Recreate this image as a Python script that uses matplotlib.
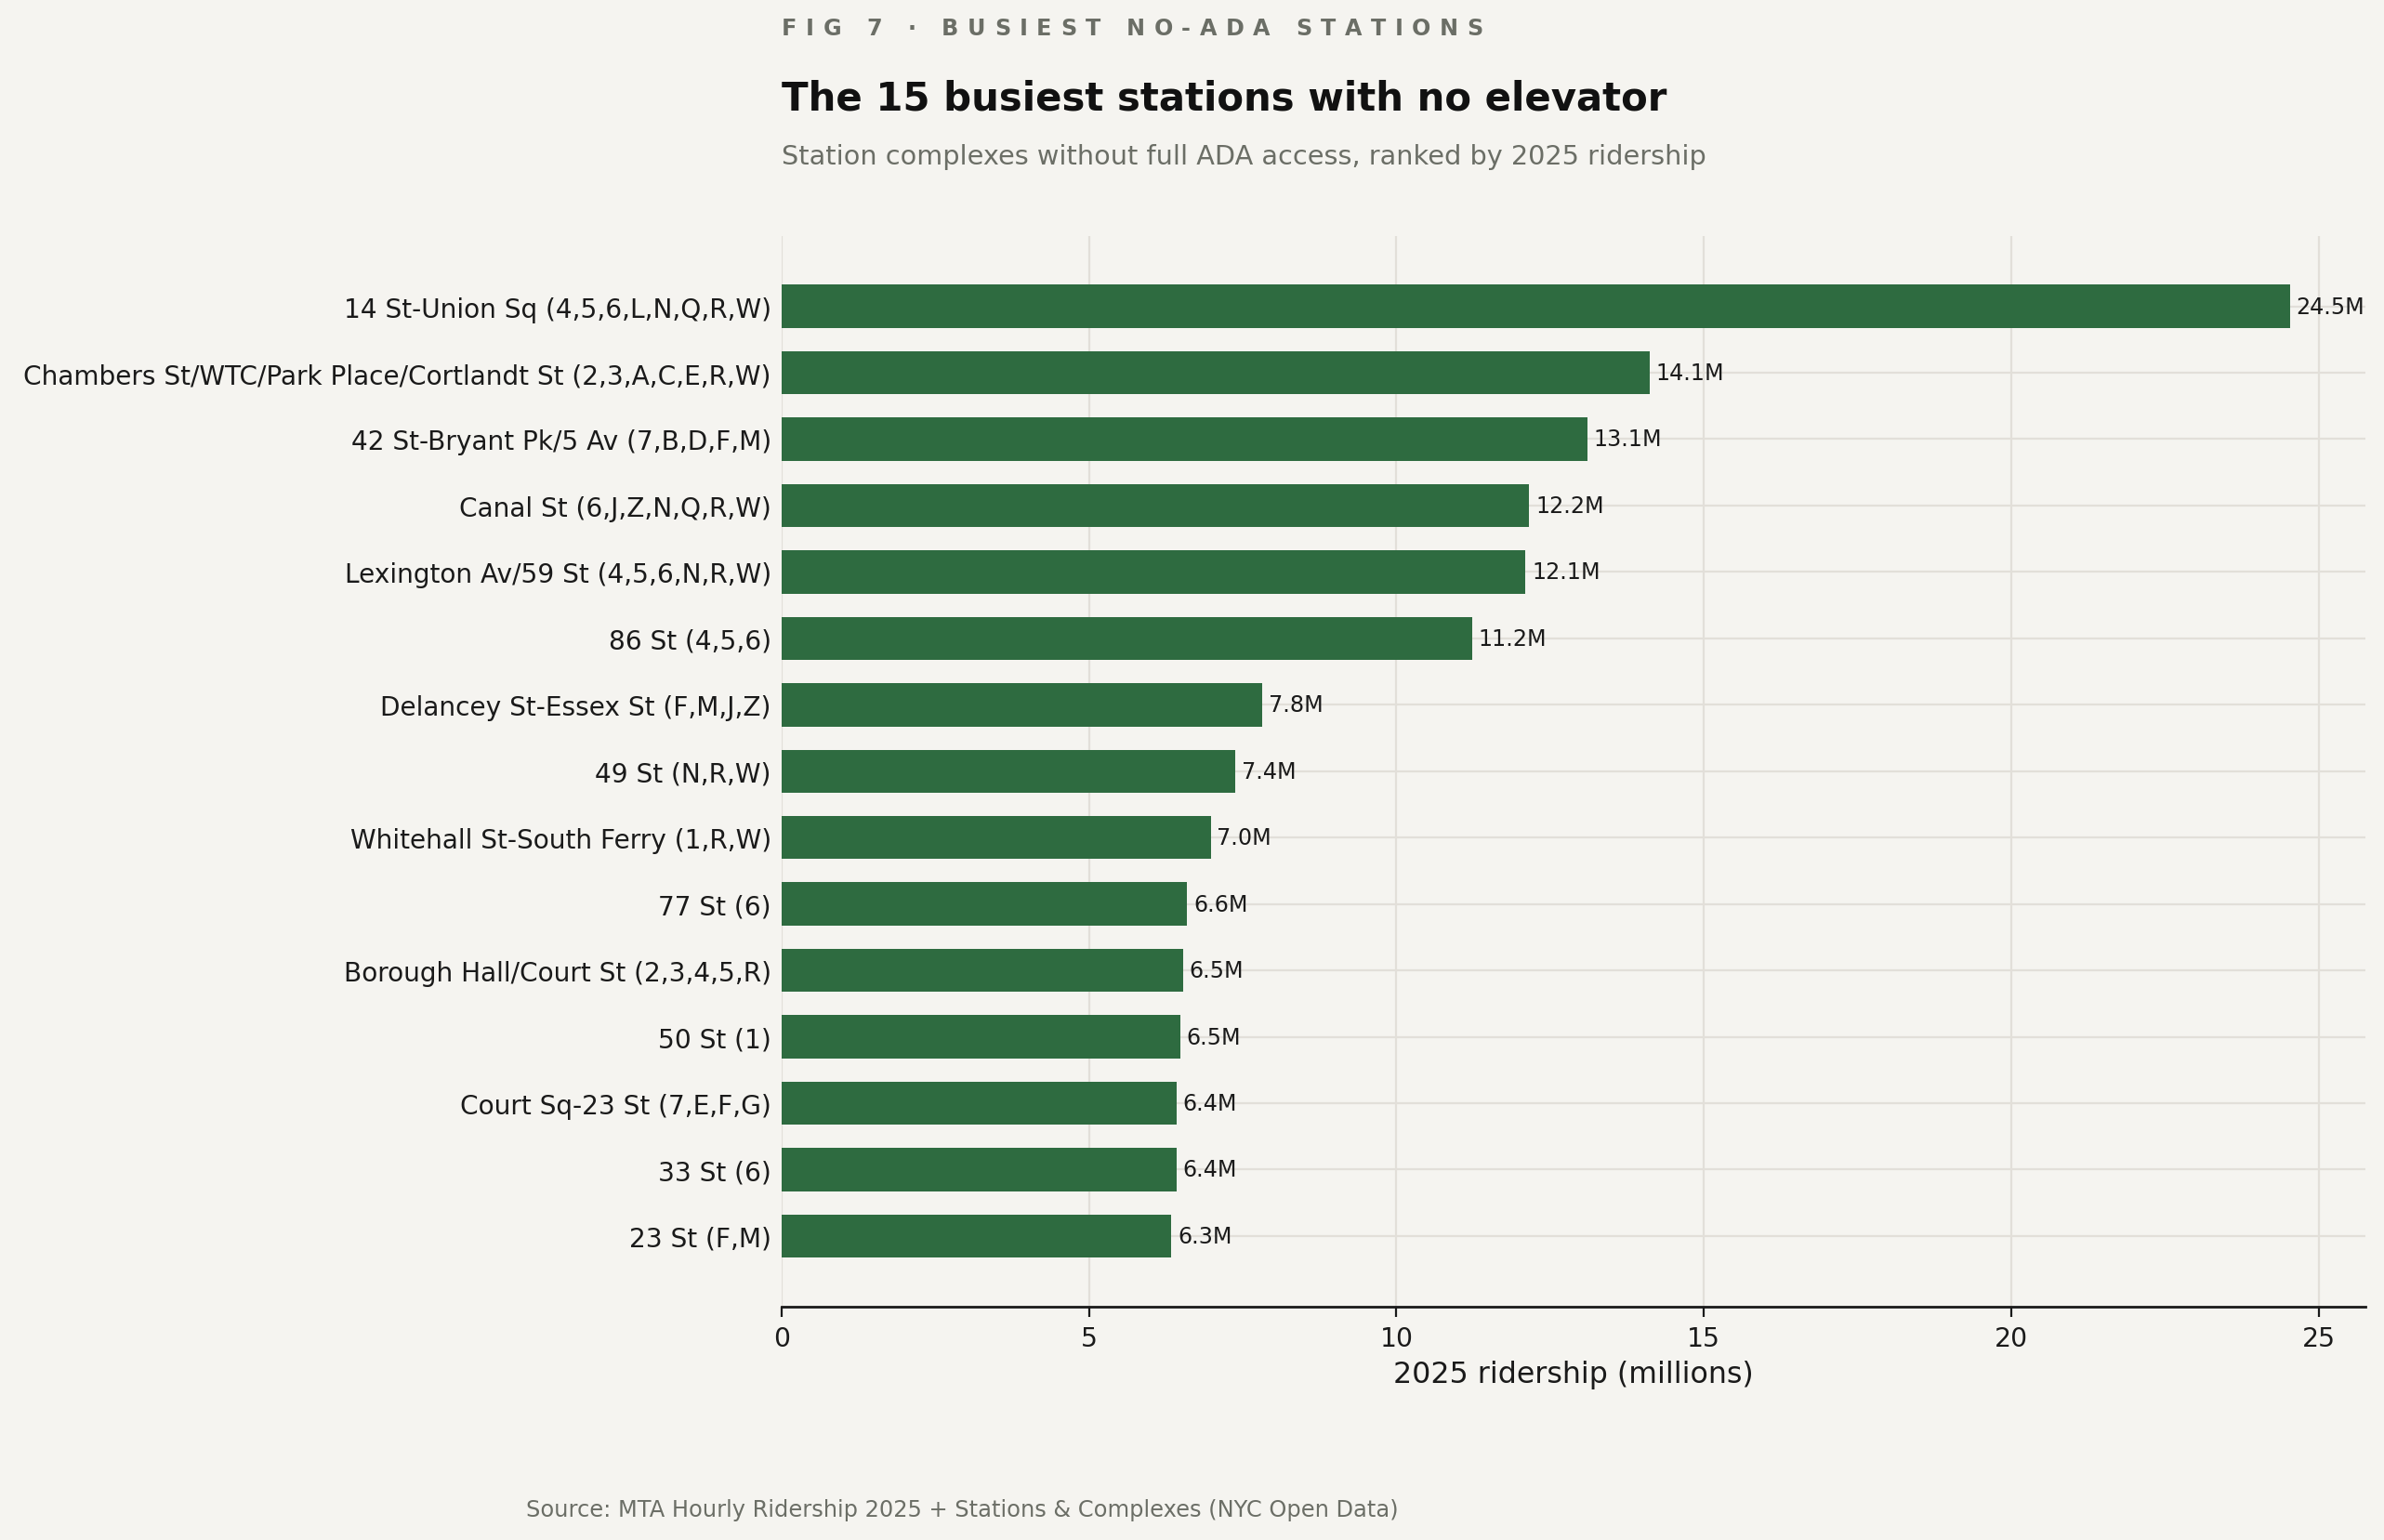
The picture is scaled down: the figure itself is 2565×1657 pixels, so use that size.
import numpy as np
import matplotlib.pyplot as plt

stations = [
    "14 St-Union Sq (4,5,6,L,N,Q,R,W)",
    "Chambers St/WTC/Park Place/Cortlandt St (2,3,A,C,E,R,W)",
    "42 St-Bryant Pk/5 Av (7,B,D,F,M)",
    "Canal St (6,J,Z,N,Q,R,W)",
    "Lexington Av/59 St (4,5,6,N,R,W)",
    "86 St (4,5,6)",
    "Delancey St-Essex St (F,M,J,Z)",
    "49 St (N,R,W)",
    "Whitehall St-South Ferry (1,R,W)",
    "77 St (6)",
    "Borough Hall/Court St (2,3,4,5,R)",
    "50 St (1)",
    "Court Sq-23 St (7,E,F,G)",
    "33 St (6)",
    "23 St (F,M)",
]
ridership = [24.53, 14.12, 13.11, 12.16, 12.10, 11.23, 7.82, 7.38, 6.98,
             6.60, 6.53, 6.49, 6.43, 6.42, 6.34]

BG = "#f5f4f0"
GREEN = "#2e6b40"
GRAY = "#6b6e66"
GRID = "#e2dfd9"
W, H = 2565, 1658
AX_TOP, AX_BOT = 255.0, 1406.5

fig = plt.figure(figsize=(W / 200, H / 200), dpi=200, facecolor=BG)
ax = fig.add_axes([840.8/W, 1 - AX_BOT/H, (2545-840.8)/W, (AX_BOT-AX_TOP)/H])
ax.set_facecolor(BG)

y = np.arange(len(stations))
ax.barh(y, ridership, height=0.65, color=GREEN, zorder=3)
ax.invert_yaxis()
ax.set_yticks(y)
ax.set_yticklabels(stations, fontsize=10.1, color="#1a1a1a")
ax.tick_params(axis="y", length=0, pad=4)
ax.tick_params(axis="x", labelsize=10.2, colors="#1a1a1a", length=4, width=0.8)
ax.set_xlim(0, max(ridership) * 1.05)
ax.set_xticks([0, 5, 10, 15, 20, 25])

for i, v in enumerate(ridership):
    ax.text(v + 0.1, i, f"{v:.1f}M", va="center", ha="left", fontsize=8.6,
            color="#1a1a1a", zorder=4)

ax.grid(True, color=GRID, linewidth=0.8, zorder=0)
ax.set_axisbelow(True)
for s in ["top", "right", "left"]:
    ax.spines[s].set_visible(False)
ax.spines["bottom"].set_color("#1a1a1a")
ax.spines["bottom"].set_linewidth(1.0)

ax.set_xlabel("2025 ridership (millions)", fontsize=11.4, color="#1a1a1a")
ax.xaxis.set_label_coords(0.5, (AX_BOT - 1488) / (AX_BOT - AX_TOP), transform=ax.transAxes)
ax.xaxis.label.set_va("baseline")

x0 = 840.8 / W

# kicker with letter spacing: place characters one by one
kicker = "FIG 7 · BUSIEST NO-ADA STATIONS"
target_w = 755.0
renderer = fig.canvas.get_renderer()
widths = []
for ch in kicker:
    t = fig.text(0, 0, ch if ch != " " else "\u00a0", fontsize=8.6, fontweight="bold")
    widths.append(t.get_window_extent(renderer).width)
    t.remove()
track = (target_w - sum(widths)) / (len(kicker) - 1)
xp = 840.8
for ch, w in zip(kicker, widths):
    if ch != " ":
        fig.text(xp / W, 1 - 37.7/H, ch, fontsize=8.6, fontweight="bold",
                 color=GRAY, va="baseline", ha="left")
    xp += w + track

fig.text(x0, 1 - 118.3/H, "The 15 busiest stations with no elevator",
         fontsize=15.1, fontweight="bold", color="#111111", va="baseline", ha="left")
fig.text(x0, 1 - 176.7/H,
         "Station complexes without full ADA access, ranked by 2025 ridership",
         fontsize=10.35, color=GRAY, va="baseline", ha="left")
fig.text(566/W, 1 - 1632/H,
         "Source: MTA Hourly Ridership 2025 + Stations & Complexes (NYC Open Data)",
         fontsize=8.7, color=GRAY, va="baseline", ha="left")

fig.savefig("out.png", dpi=200, facecolor=BG)
